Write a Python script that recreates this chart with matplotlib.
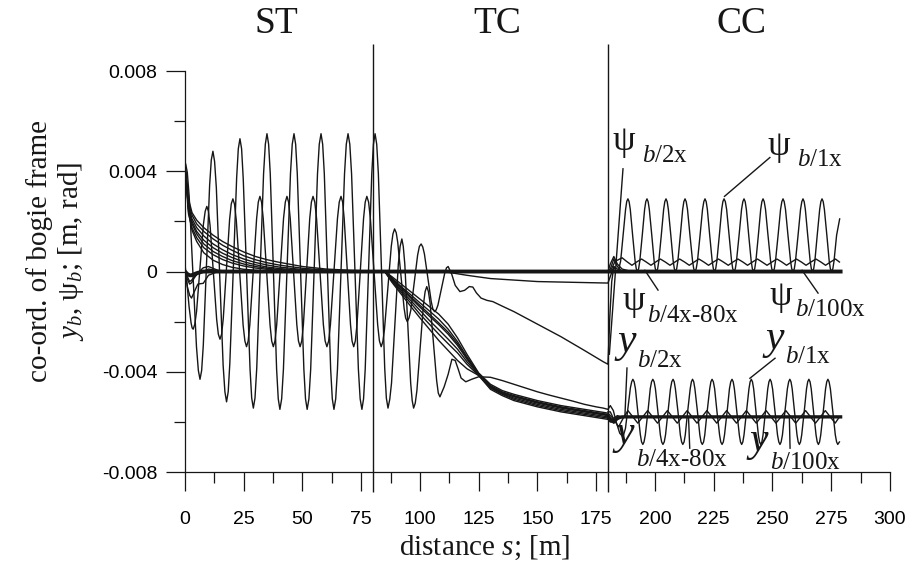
import numpy as np
import matplotlib
matplotlib.use("Agg")
import matplotlib.pyplot as plt
from matplotlib import font_manager
from matplotlib.ticker import MultipleLocator, FixedLocator, FuncFormatter

# values are in units of 1e-3 [m or rad], distances s in [m]

# y_b/1x : hunting in ST, settling in TC, hunting again in CC  (s, y)
y1_pts = [
    (0, 4.3), (0.3, 4.3), (1.0, 3.95), (1.8, 3.0), (3.35, 0.0), (4.9, -3.0), (5.7, -3.95), (6.4, -4.3),
    (7.1, -3.95), (7.8, -2.95), (9.15, 0.25), (10.5, 3.45), (11.2, 4.45), (11.9, 4.8),
    (12.6, 4.4), (13.35, 3.35), (14.8, -0.2), (16.25, -3.75), (17.0, -4.8), (17.7, -5.2),
    (18.4, -4.8), (19.1, -3.65), (20.55, 0.05), (22.0, 3.75), (22.7, 4.9), (23.4, 5.3),
    (24.1, 4.9), (24.8, 3.7), (26.25, -0.07), (27.7, -3.9), (28.4, -5.05), (29.1, -5.45),
    (29.8, -5.05), (30.55, -3.85), (32.0, 0.0), (33.45, 3.9), (34.2, 5.08), (34.9, 5.5),
    (35.6, 5.08), (36.3, 3.9), (37.65, 0.0), (39.0, -3.9), (39.7, -5.08), (40.4, -5.5),
    (41.15, -5.08), (41.9, -3.9), (43.4, 0.0), (44.9, 3.9), (45.65, 5.08), (46.4, 5.5),
    (47.1, 5.08), (47.8, 3.9), (49.2, 0.0), (50.6, -3.9), (51.3, -5.08), (52.0, -5.5),
    (52.75, -5.08), (53.5, -3.9), (54.95, 0.0), (56.4, 3.9), (57.15, 5.08), (57.9, 5.5),
    (58.6, 5.08), (59.3, 3.9), (60.65, 0.0), (62.0, -3.9), (62.7, -5.08), (63.4, -5.5),
    (64.15, -5.08), (64.9, -3.9), (66.4, 0.0), (67.9, 3.9), (68.65, 5.08), (69.4, 5.5),
    (70.15, 5.08), (70.9, 3.9), (72.35, 0.0), (73.8, -3.9), (74.55, -5.08), (75.3, -5.5),
    (76.0, -5.08), (76.7, -3.9), (78.1, 0.0), (79.5, 3.9), (80.2, 5.08), (80.9, 5.5),
    (81.6, 5.08), (82.3, 3.9), (83.65, 0.0), (85.0, -3.85), (85.7, -5.05), (86.4, -5.45),
    (87.15, -5.1), (87.9, -4.45), (89.35, -2.1), (90.8, 0.3), (91.55, 1.0), (92.3, 1.3),
    (92.9, 1.0), (93.55, 0.3), (94.8, -2.1), (96.05, -4.45), (96.7, -5.15), (97.3, -5.45),
    (98.0, -5.25), (98.7, -4.75), (100.1, -3.0), (101.5, -1.3), (102.2, -0.8), (102.9, -0.6),
    (103.6, -0.8), (104.3, -1.25), (105.7, -2.8), (107.1, -4.35), (107.8, -4.85), (108.5, -5.0),
    (110.3, -4.6), (112.0, -4.1), (113.6, -3.5), (115.0, -3.55), (116.3, -3.9), (117.5, -4.25),
    (119.5, -4.4), (122.0, -4.3), (125.0, -4.2), (130.0, -4.22), (135.0, -4.35), (140.0, -4.5),
    (145.0, -4.65), (150.0, -4.8), (155.0, -4.93), (160.0, -5.05), (165.0, -5.17), (170.0, -5.3),
    (175.0, -5.4), (178.0, -5.45), (180.0, -5.5),
    (181.0, -5.35), (182.3, -5.55), (183.5, -6.0), (185.0, -6.45), (186.4, -6.6), (187.45, -6.26),
    (188.5, -5.45), (189.55, -4.64), (190.1, -4.4), (190.6, -4.3),
    (191.15, -4.4), (191.7, -4.68), (192.7, -5.6), (193.8, -6.52), (194.3, -6.8), (194.85, -6.9),
    (195.35, -6.8), (195.9, -6.52), (197.0, -5.6), (198.0, -4.68), (198.55, -4.4), (199.1, -4.3),
    (199.65, -4.4), (200.2, -4.68), (201.25, -5.6), (202.3, -6.52), (202.85, -6.8), (203.4, -6.9),
    (203.95, -6.8), (204.5, -6.52), (205.55, -5.6), (206.6, -4.68), (207.15, -4.4), (207.7, -4.3),
    (208.2, -4.4), (208.7, -4.68), (209.8, -5.6), (210.8, -6.52), (211.35, -6.8), (211.85, -6.9),
    (212.4, -6.8), (212.9, -6.52), (213.9, -5.6), (215.0, -4.68), (215.5, -4.4), (216.0, -4.3),
    (216.5, -4.4), (217.0, -4.68), (218.1, -5.6), (219.1, -6.52), (219.6, -6.8), (220.15, -6.9),
    (220.7, -6.8), (221.2, -6.52), (222.2, -5.6), (223.3, -4.68), (223.8, -4.4), (224.3, -4.3),
    (224.85, -4.4), (225.4, -4.68), (226.4, -5.6), (227.5, -6.52), (228.0, -6.8), (228.55, -6.9),
    (229.1, -6.8), (229.6, -6.52), (230.7, -5.6), (231.7, -4.68), (232.25, -4.4), (232.8, -4.3),
    (233.3, -4.4), (233.8, -4.68), (234.85, -5.6), (235.9, -6.52), (236.4, -6.8), (236.9, -6.9),
    (237.4, -6.8), (237.9, -6.52), (238.95, -5.6), (240.0, -4.68), (240.5, -4.4), (241.0, -4.3),
    (241.5, -4.4), (242.0, -4.68), (243.0, -5.6), (244.0, -6.52), (244.5, -6.8), (245.0, -6.9),
    (245.5, -6.8), (246.0, -6.52), (247.0, -5.6), (248.0, -4.68), (248.5, -4.4), (249.0, -4.3),
    (249.5, -4.4), (250.05, -4.68), (251.1, -5.6), (252.15, -6.52), (252.7, -6.8), (253.2, -6.9),
    (253.7, -6.8), (254.25, -6.52), (255.3, -5.6), (256.35, -4.68), (256.9, -4.4), (257.4, -4.3),
    (257.9, -4.4), (258.4, -4.68), (259.4, -5.6), (260.45, -6.52), (260.95, -6.8), (261.45, -6.9),
    (261.95, -6.8), (262.45, -6.52), (263.5, -5.6), (264.5, -4.68), (265.0, -4.4), (265.5, -4.3),
    (266.0, -4.4), (266.5, -4.68), (267.5, -5.6), (268.55, -6.52), (269.05, -6.8), (269.55, -6.9),
    (270.05, -6.8), (270.55, -6.52), (271.6, -5.6), (272.6, -4.68), (273.1, -4.4), (273.6, -4.3),
    (274.1, -4.4), (274.65, -4.68), (275.7, -5.6), (276.75, -6.52), (277.3, -6.8), (277.8, -6.9),
    (278.5, -6.8),
]

# psi_b/1x  (s, psi)
p1_pts = [
    (0, 0.3), (0.9, -0.5), (1.75, -1.4), (2.6, -2.05), (3.05, -2.25), (3.5, -2.3),
    (4.2, -2.1), (4.95, -1.58), (6.4, 0.15), (7.85, 1.88), (8.6, 2.4), (9.3, 2.6),
    (10.0, 2.4), (10.7, 1.82), (12.1, -0.05), (13.5, -1.92), (14.2, -2.5), (14.9, -2.7),
    (15.6, -2.5), (16.3, -1.88), (17.65, 0.1), (19.0, 2.08), (19.7, 2.7), (20.4, 2.9),
    (21.1, 2.68), (21.85, 2.04), (23.3, -0.05), (24.75, -2.14), (25.5, -2.77), (26.2, -3.0),
    (26.9, -2.77), (27.6, -2.12), (29.05, 0.0), (30.5, 2.12), (31.2, 2.77), (31.9, 3.0),
    (32.6, 2.77), (33.3, 2.12), (34.75, 0.0), (36.2, -2.12), (36.9, -2.77), (37.6, -3.0),
    (38.3, -2.77), (39.05, -2.12), (40.5, 0.0), (41.95, 2.12), (42.7, 2.77), (43.4, 3.0),
    (44.1, 2.77), (44.8, 2.12), (46.2, 0.0), (47.6, -2.12), (48.3, -2.77), (49.0, -3.0),
    (49.7, -2.77), (50.4, -2.12), (51.75, 0.0), (53.1, 2.12), (53.8, 2.77), (54.5, 3.0),
    (55.25, 2.77), (56.0, 2.12), (57.45, 0.0), (58.9, -2.12), (59.65, -2.77), (60.4, -3.0),
    (61.15, -2.77), (61.9, -2.12), (63.4, 0.0), (64.9, 2.12), (65.65, 2.77), (66.4, 3.0),
    (67.1, 2.77), (67.75, 2.12), (69.1, 0.0), (70.45, -2.12), (71.1, -2.77), (71.8, -3.0),
    (72.5, -2.77), (73.2, -2.12), (74.6, 0.0), (76.0, 2.12), (76.7, 2.77), (77.4, 3.0),
    (78.15, 2.77), (78.9, 2.12), (80.45, 0.0), (82.0, -2.12), (82.75, -2.77), (83.5, -3.0),
    (84.2, -2.8), (84.9, -2.31), (86.35, -0.65), (87.8, 1.01), (88.5, 1.5), (89.2, 1.7),
    (89.9, 1.55), (90.55, 1.16), (91.9, -0.15), (93.25, -1.46), (93.9, -1.85), (94.6, -2.0),
    (95.35, -1.85), (96.1, -1.55), (97.55, -0.45), (99.0, 0.65), (99.75, 1.0), (100.5, 1.1),
    (101.2, 0.98), (101.9, 0.7), (103.35, -0.25), (104.8, -1.2), (105.5, -1.5), (106.2, -1.6),
    (106.9, -1.53), (107.65, -1.34), (109.1, -0.7), (110.55, -0.06), (111.3, 0.15), (112.0, 0.2),
    (113.5, -0.1), (115.0, -0.55), (117.0, -0.8), (119.0, -0.75), (121.0, -0.6), (122.5, -0.62),
    (124.0, -0.85), (126.0, -1.06), (128.5, -1.15), (131.0, -1.2), (135.0, -1.38), (140.0, -1.6),
    (150.0, -2.1), (160.0, -2.6), (170.0, -3.15), (178.0, -3.6), (180.0, -3.7),
    (180.8, -1.8), (181.6, -0.4), (182.5, 0.2), (183.5, 0.0), (184.4, 0.0), (185.4, 0.42),
    (186.45, 1.45), (187.5, 2.48), (188.0, 2.8), (188.5, 2.9),
    (189.0, 2.79), (189.5, 2.48), (190.5, 1.45), (191.55, 0.42), (192.05, 0.11), (192.55, 0.0),
    (193.05, 0.11), (193.55, 0.42), (194.6, 1.45), (195.6, 2.48), (196.1, 2.79), (196.6, 2.9),
    (197.1, 2.79), (197.6, 2.48), (198.65, 1.45), (199.65, 0.42), (200.15, 0.11), (200.65, 0.0),
    (201.15, 0.11), (201.65, 0.42), (202.7, 1.45), (203.7, 2.48), (204.2, 2.79), (204.7, 2.9),
    (205.2, 2.79), (205.7, 2.48), (206.75, 1.45), (207.75, 0.42), (208.25, 0.11), (208.75, 0.0),
    (209.25, 0.11), (209.75, 0.42), (210.8, 1.45), (211.8, 2.48), (212.3, 2.79), (212.8, 2.9),
    (213.3, 2.79), (213.85, 2.48), (214.9, 1.45), (216.0, 0.42), (216.5, 0.11), (217.05, 0.0),
    (217.55, 0.11), (218.1, 0.42), (219.2, 1.45), (220.25, 2.48), (220.8, 2.79), (221.3, 2.9),
    (221.8, 2.79), (222.3, 2.48), (223.3, 1.45), (224.35, 0.42), (224.85, 0.11), (225.35, 0.0),
    (225.85, 0.11), (226.35, 0.42), (227.4, 1.45), (228.4, 2.48), (228.9, 2.79), (229.4, 2.9),
    (229.95, 2.79), (230.5, 2.48), (231.55, 1.45), (232.6, 0.42), (233.1, 0.11), (233.65, 0.0),
    (234.2, 0.11), (234.7, 0.42), (235.8, 1.45), (236.85, 2.48), (237.4, 2.79), (237.9, 2.9),
    (238.4, 2.79), (238.9, 2.48), (239.9, 1.45), (240.95, 0.42), (241.45, 0.11), (241.95, 0.0),
    (242.45, 0.11), (242.95, 0.42), (244.0, 1.45), (245.0, 2.48), (245.5, 2.79), (246.0, 2.9),
    (246.5, 2.79), (247.05, 2.48), (248.1, 1.45), (249.2, 0.42), (249.7, 0.11), (250.25, 0.0),
    (250.8, 0.11), (251.3, 0.42), (252.4, 1.45), (253.45, 2.48), (254.0, 2.79), (254.5, 2.9),
    (255.0, 2.79), (255.55, 2.48), (256.6, 1.45), (257.7, 0.42), (258.2, 0.11), (258.75, 0.0),
    (259.3, 0.11), (259.8, 0.42), (260.9, 1.45), (261.95, 2.48), (262.5, 2.79), (263.0, 2.9),
    (263.5, 2.79), (264.0, 2.48), (265.0, 1.45), (266.05, 0.42), (266.55, 0.11), (267.05, 0.0),
    (267.55, 0.11), (268.05, 0.42), (269.05, 1.45), (270.1, 2.48), (270.6, 2.79), (271.1, 2.9),
    (271.6, 2.79), (272.1, 2.48), (273.15, 1.45), (274.15, 0.42), (274.65, 0.11), (275.2, 0.0),
    (275.7, 0.11), (276.2, 0.42), (277.3, 1.45), (278.6, 2.1),
]

# stable lateral displacements y_b (2x, 4x ... 100x)
ys_s = [0, 0.5, 1.5, 3, 5, 8, 12, 16, 20, 25, 30, 35, 40, 50, 60, 70, 80,
        85, 88, 92, 96, 100, 104, 108, 112, 116, 120, 125, 130, 135, 140, 150, 160, 170, 180,
        181, 182.5, 184, 186, 190, 200, 279]
ya_v = [4.1, 3.9, 2.9, 2.35, 2.05, 1.75, 1.45, 1.2, 1.0, 0.78, 0.6, 0.47, 0.37, 0.2, 0.1, 0.05, 0.02,
        0, -0.2, -0.5, -0.8, -1.1, -1.4, -1.7, -2.1, -2.65, -3.3, -4.05, -4.5, -4.75, -4.9, -5.15, -5.35, -5.5, -5.65,
        -5.75, -5.9, -5.85, -5.8, -5.8, -5.8, -5.8]
yb_v = [4.0, 3.7, 2.75, 2.25, 1.9, 1.6, 1.3, 1.05, 0.85, 0.63, 0.47, 0.35, 0.26, 0.13, 0.06, 0.03, 0.01,
        0, -0.25, -0.6, -0.92, -1.25, -1.57, -1.9, -2.3, -2.8, -3.4, -4.08, -4.55, -4.8, -4.95, -5.2, -5.4, -5.55, -5.7,
        -5.85, -6.0, -5.9, -5.8, -5.8, -5.8, -5.8]
yc_v = [4.1, 3.8, 2.6, 2.1, 1.75, 1.42, 1.1, 0.87, 0.68, 0.5, 0.36, 0.26, 0.18, 0.08, 0.03, 0.01, 0,
        0, -0.3, -0.68, -1.05, -1.42, -1.78, -2.12, -2.5, -2.95, -3.5, -4.1, -4.6, -4.85, -5.0, -5.25, -5.45, -5.6, -5.75,
        -5.9, -6.05, -5.9, -5.8, -5.8, -5.8, -5.8]
yd_v = [4.0, 3.6, 2.5, 2.0, 1.6, 1.25, 0.95, 0.73, 0.56, 0.39, 0.27, 0.18, 0.12, 0.05, 0.01, 0, 0,
        0, -0.33, -0.75, -1.15, -1.55, -1.95, -2.32, -2.7, -3.1, -3.6, -4.12, -4.62, -4.88, -5.05, -5.3, -5.5, -5.65, -5.8,
        -5.95, -6.0, -5.85, -5.8, -5.8, -5.8, -5.8]
ye_v = [4.2, 3.7, 2.5, 1.9, 1.5, 1.1, 0.8, 0.6, 0.44, 0.3, 0.2, 0.13, 0.08, 0.03, 0.01, 0, 0,
        0, -0.37, -0.82, -1.25, -1.7, -2.1, -2.5, -2.88, -3.25, -3.7, -4.15, -4.65, -4.9, -5.1, -5.35, -5.55, -5.7, -5.85,
        -6.0, -5.95, -5.8, -5.8, -5.8, -5.8, -5.8]
yf_v = [4.0, 3.5, 2.3, 1.75, 1.35, 0.95, 0.67, 0.48, 0.34, 0.22, 0.14, 0.09, 0.05, 0.02, 0, 0, 0,
        0, -0.42, -0.9, -1.38, -1.85, -2.3, -2.75, -3.15, -3.55, -3.88, -4.15, -4.7, -4.95, -5.15, -5.4, -5.6, -5.75, -5.9,
        -5.95, -5.85, -5.75, -5.8, -5.8, -5.8, -5.8]
yg_v = [4.3, 3.9, 2.4, 1.65, 1.2, 0.75, 0.45, 0.28, 0.17, 0.09, 0.05, 0.02, 0.01, 0, 0, 0, 0,
        0, -0.28, -0.64, -1.0, -1.35, -1.7, -2.05, -2.42, -2.88, -3.45, -4.08, -4.58, -4.83, -4.98, -5.22, -5.42, -5.58, -5.72,
        -5.85, -5.95, -5.85, -5.8, -5.8, -5.8, -5.8]
y_stable = [ya_v, yb_v, yc_v, yd_v, ye_v, yf_v, yg_v]

# y_b/4x-80x small oscillation in CC
ysm_s = [180, 181, 182.5, 184.5, 186.5, 188.5, 190.6, 192.7, 194.8, 196.9, 199.0, 201.1, 203.2,
         205.3, 207.4, 209.5, 211.6, 213.7, 215.8, 217.9, 220.0, 222.1, 224.2, 226.3, 228.4,
         230.5, 232.6, 234.7, 236.8, 238.9, 241.0, 243.1, 245.2, 247.3, 249.4, 251.5, 253.6,
         255.7, 257.8, 259.9, 262.0, 264.1, 266.2, 268.3, 270.4, 272.5, 274.6, 276.7, 278.5]
ysm_v = [-5.6, -5.6, -5.9, -6.2, -5.85, -5.55, -5.8, -6.05, -5.8, -5.55, -5.8, -6.05, -5.8,
         -5.55, -5.8, -6.05, -5.8, -5.55, -5.8, -6.05, -5.8, -5.55, -5.8, -6.05, -5.8,
         -5.55, -5.8, -6.05, -5.8, -5.55, -5.8, -6.05, -5.8, -5.55, -5.8, -6.05, -5.8,
         -5.55, -5.8, -6.05, -5.8, -5.55, -5.8, -6.05, -5.8, -5.55, -5.8, -6.05, -5.8]

# stable yaw angles psi_b
ps_s = [0, 1, 2, 2.8, 4, 5.5, 7.8, 10, 14, 20, 80, 85, 110, 120, 130, 150, 180,
        181, 182.5, 184, 186, 190, 279]
pa_v = [0, -0.6, -0.95, -1.06, -0.8, -0.5, -0.47, -0.15, 0, 0, 0, 0, 0, 0, 0, 0, 0,
        0.1, 0.5, 0.2, 0, 0, 0]
pb_v = [0, -0.3, -0.5, -0.45, -0.25, -0.05, 0.15, 0.2, 0.05, 0, 0, 0, 0, 0, 0, 0, 0,
        0.3, 0.6, 0.3, 0.1, 0, 0]
pc_v = [0, -0.2, -0.4, -0.35, -0.2, -0.1, 0, 0.1, 0.03, 0, 0, 0, 0, -0.15, -0.28, -0.4, -0.46,
        -0.2, 0.2, 0.1, 0, 0, 0]
p100_v = [0, -0.1, -0.15, -0.15, -0.1, -0.05, 0, 0, 0, 0, 0, 0, 0, 0, 0, 0, 0,
          0, 0, 0, 0, 0, 0]
psi_stable = [pa_v, pb_v, pc_v]

# psi_b/4x-80x small oscillation in CC
psm_s = [181, 183, 186, 188, 190.2, 192.2, 194.3, 196.3, 198.3, 200.3, 202.3, 204.4, 206.4,
         208.5, 210.5, 212.6, 214.6, 216.7, 218.7, 220.8, 222.8, 224.9, 227.0, 229.1, 231.2,
         233.2, 235.3, 237.4, 239.4, 241.5, 243.6, 245.6, 247.7, 249.8, 251.9, 254.0, 256.0,
         258.1, 260.2, 262.3, 264.3, 266.4, 268.5, 270.6, 272.6, 274.7, 276.8, 278.5]
psm_v = [0, 0.4, 0.55, 0.4, 0.25, 0.38, 0.5, 0.38, 0.25, 0.38, 0.5, 0.38, 0.25,
         0.38, 0.5, 0.38, 0.25, 0.38, 0.5, 0.38, 0.25, 0.38, 0.5, 0.38, 0.25,
         0.38, 0.5, 0.38, 0.25, 0.38, 0.5, 0.38, 0.25, 0.38, 0.5, 0.38, 0.25,
         0.38, 0.5, 0.38, 0.25, 0.38, 0.5, 0.38, 0.25, 0.38, 0.5, 0.38]

sections = ["ST", "TC", "CC"]
section_mid = [39, 133, 237]
section_edges = [80, 180]

# curve labels: symbol, subscript, symbol pos, subscript pos, leader start, leader end
labels = [
    ("ψ", "$b$/2x", (181.8, 4.85), (194.3, 4.37), (186.4, 4.1), (180.6, -3.3)),
    ("ψ", "$b$/1x", (247.8, 4.65), (260.3, 4.21), (248.9, 4.55), (229.6, 3.0)),
    ("ψ", "$b$/4x-80x", (186.1, -1.54), (196.6, -2.0), (201.3, -0.74), (195.7, 0.05)),
    ("ψ", "$b$/100x", (248.6, -1.34), (259.6, -1.78), (269.4, -0.86), (262.6, 0.05)),
    ("$y$", "$b$/2x", (182.6, -3.21), (192.3, -3.81), (188.1, -3.85), (187.2, -5.8)),
    ("$y$", "$b$/1x", (245.5, -3.09), (255.3, -3.65), (251.1, -3.46), (240.4, -4.26)),
    ("$y$", "$b$/4x-80x", (181.7, -6.88), (191.9, -7.76), (214.8, -7.05), (214.3, -5.85)),
    ("$y$", "$b$/100x", (238.7, -7.16), (248.9, -7.88), (257.5, -7.05), (257.2, -5.85)),
]

names = {f.name for f in font_manager.fontManager.ttflist}
narrow = "Liberation Sans Narrow" if "Liberation Sans Narrow" in names else "Liberation Sans"

plt.rcParams["font.family"] = "Liberation Serif"
plt.rcParams["mathtext.fontset"] = "custom"
plt.rcParams["mathtext.rm"] = "Liberation Serif"
plt.rcParams["mathtext.it"] = "Liberation Serif:italic"
plt.rcParams["axes.unicode_minus"] = False

ink = "#161616"
k = 1e-3

fig = plt.figure(figsize=(9.17, 5.65), dpi=100)
ax = fig.add_axes([0.2017, 0.1646, 0.7688, 0.7584])

y1_s = [p[0] for p in y1_pts]
y1_v = [p[1] for p in y1_pts]
p1_s = [p[0] for p in p1_pts]
p1_v = [p[1] for p in p1_pts]

ax.plot(y1_s, np.array(y1_v) * k, color=ink, lw=1.0)
ax.plot(p1_s, np.array(p1_v) * k, color=ink, lw=1.0)
for v in y_stable:
    ax.plot(ys_s, np.array(v) * k, color=ink, lw=1.0)
for v in psi_stable:
    ax.plot(ps_s, np.array(v) * k, color=ink, lw=1.0)
ax.plot(ysm_s, np.array(ysm_v) * k, color=ink, lw=1.0)
ax.plot(psm_s, np.array(psm_v) * k, color=ink, lw=1.0)
# 100x cases drawn heavier (many curves overlap there)
ax.plot(ps_s, np.array(p100_v) * k, color=ink, lw=2.8)
ax.plot(ys_s[34:], np.array(yd_v[34:]) * k, color=ink, lw=2.4)

ax.vlines(section_edges, -0.0088, 0.0091, color=ink, lw=1.0, clip_on=False)
for name, xm in zip(sections, section_mid):
    ax.text(xm, 0.0099, name, ha="center", va="center", fontsize=27, color=ink,
            clip_on=False)

for sym, sub, pm, psub, a, b in labels:
    size = 26 if sym == "ψ" else 30
    ax.text(pm[0], pm[1] * k, sym, fontsize=size, color=ink, ha="left", va="baseline")
    ax.text(psub[0], psub[1] * k, sub, fontsize=18, color=ink, ha="left", va="baseline")
    ax.plot([a[0], b[0]], [a[1] * k, b[1] * k], color=ink, lw=1.0)

ax.set_xlim(0, 300)
ax.set_ylim(-0.008, 0.0091)
ax.spines["top"].set_visible(False)
ax.spines["right"].set_visible(False)
ax.spines["left"].set_bounds(-0.008, 0.008)
for s in ("left", "bottom"):
    ax.spines[s].set_linewidth(0.9)
    ax.spines[s].set_color(ink)

ax.xaxis.set_major_locator(MultipleLocator(25))
ax.xaxis.set_minor_locator(MultipleLocator(12.5))
ax.yaxis.set_major_locator(FixedLocator([-0.008, -0.004, 0, 0.004, 0.008]))
ax.yaxis.set_minor_locator(FixedLocator([-0.006, -0.002, 0.002, 0.006]))
ax.yaxis.set_major_formatter(FuncFormatter(lambda v, p: "0" if abs(v) < 1e-9 else f"{v:.3f}"))
ax.tick_params(which="major", direction="out", length=14, width=0.9, color=ink)
ax.tick_params(which="minor", direction="out", length=8, width=0.9, color=ink)
ax.tick_params(axis="x", which="major", pad=14)
ax.tick_params(axis="y", which="major", pad=6)
for t in ax.get_xticklabels():
    t.set_fontfamily(narrow)
    t.set_fontsize(14)
for t in ax.get_yticklabels():
    t.set_fontfamily("Liberation Sans")
    t.set_fontsize(14)

fig.text(0.529, 0.030, "distance $s$; [m]", ha="center", va="center", fontsize=21, color=ink)
fig.text(0.061, 0.555, "co-ord. of bogie frame\n$y_b$, ψ$_b$; [m, rad]", rotation=90,
         ha="center", va="center", fontsize=21, color=ink, linespacing=1.15,
         multialignment="center")

fig.savefig("out.png", dpi=100)
